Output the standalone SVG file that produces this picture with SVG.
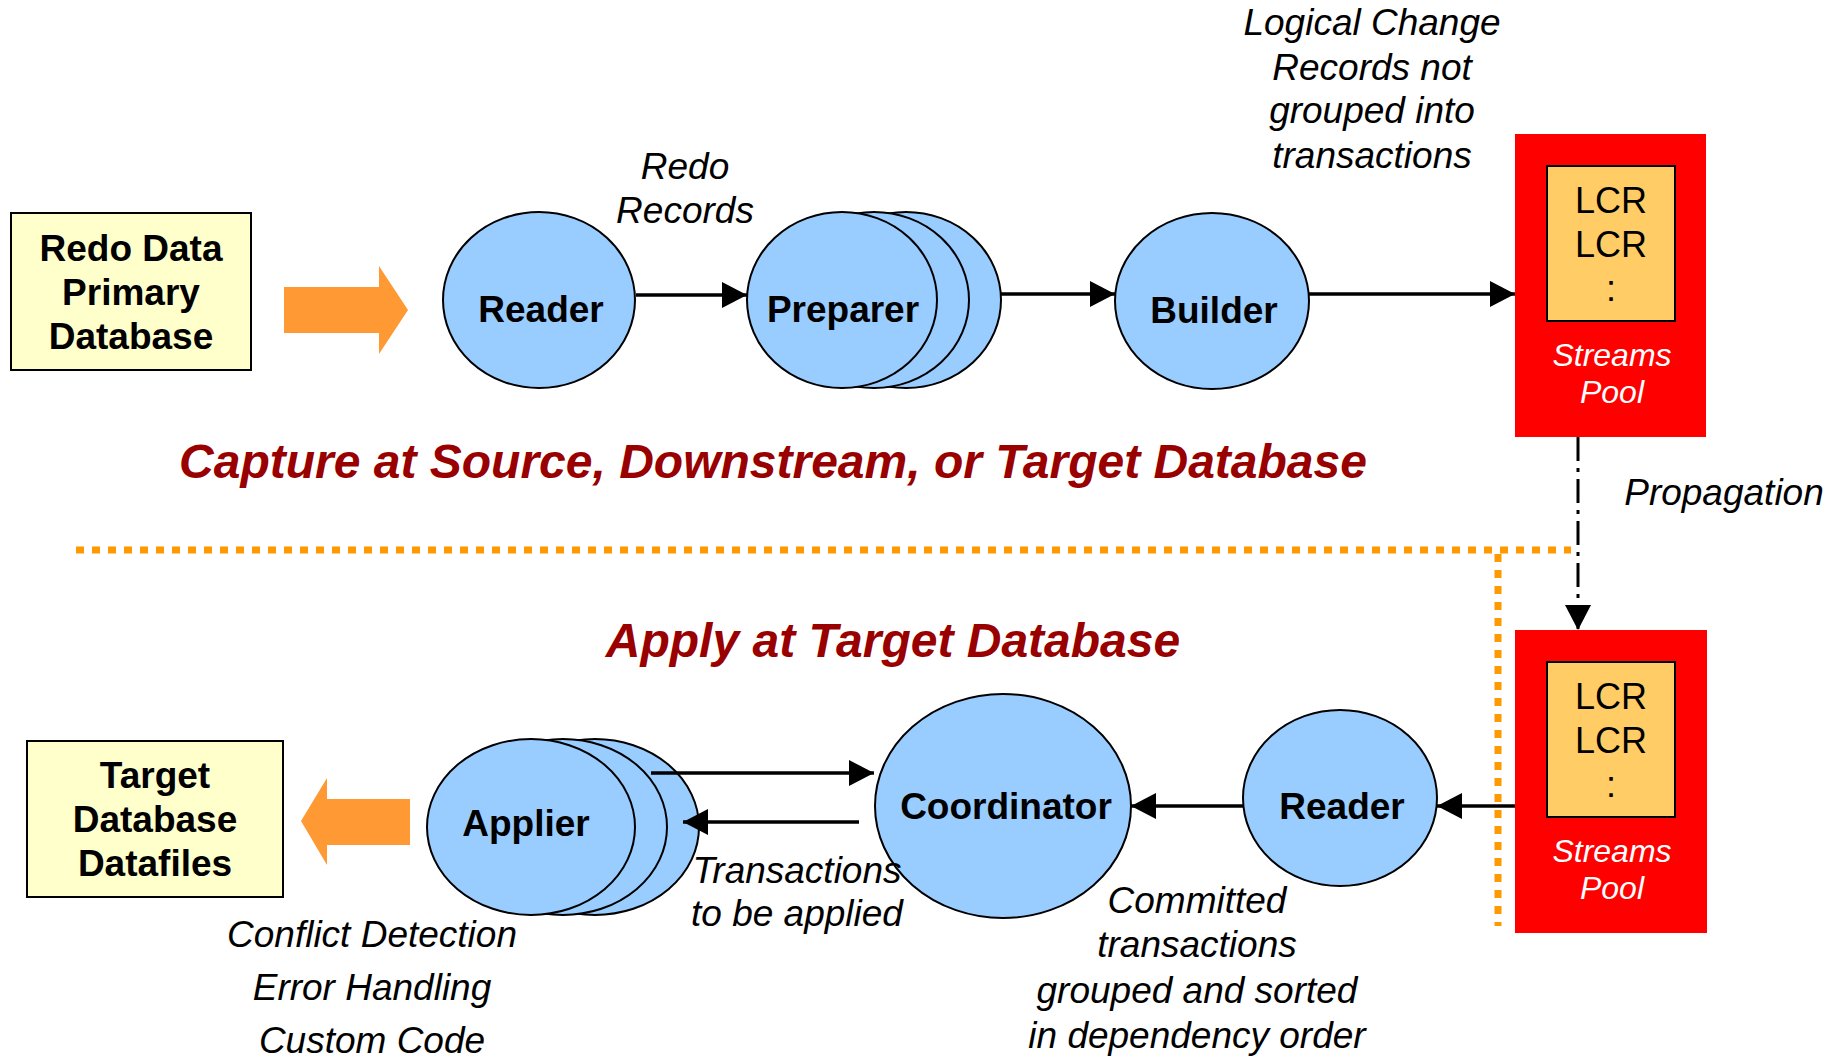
<svg xmlns="http://www.w3.org/2000/svg" width="1839" height="1058" viewBox="0 0 1839 1058">
<style>
.ell{fill:#99CCFF;stroke:#000;stroke-width:2}
.box{fill:#FFFFCC;stroke:#000;stroke-width:2}
.pool{fill:#FF0000}
.lcrbox{fill:#FFCC66;stroke:#000;stroke-width:2}
.lbl{font-family:"Liberation Sans",Arial,sans-serif;font-weight:bold;font-size:37px;fill:#000;text-anchor:middle}
.it{font-family:"Liberation Sans",Arial,sans-serif;font-style:italic;font-size:37px;fill:#000;text-anchor:middle}
.lcr{font-family:"Liberation Sans",Arial,sans-serif;font-size:36px;fill:#000;text-anchor:middle}
.sp{font-family:"Liberation Sans",Arial,sans-serif;font-style:italic;font-size:32px;fill:#fff;text-anchor:middle}
.title{font-family:"Liberation Sans",Arial,sans-serif;font-style:italic;font-weight:bold;font-size:48px;fill:#990000;text-anchor:middle}
.con{stroke:#000;stroke-width:3.5;fill:none}
.big{fill:#FF9933}
.dot{stroke:#FF9900;stroke-width:7;stroke-dasharray:8 8;fill:none}
</style>
<defs>
<marker id="arr" viewBox="0 0 25 26" refX="25" refY="13" markerWidth="25" markerHeight="26" markerUnits="userSpaceOnUse" orient="auto">
<path d="M0,0 L25,13 L0,26 Z" fill="#000"/>
</marker>
</defs>

<!-- separators -->
<g id="separator">
<path class="dot" d="M76,550 H1571"/>
<path class="dot" d="M1498,554 V926"/>
</g>

<!-- titles -->
<g id="titles">
<text class="title" x="773" y="478">Capture at Source, Downstream, or Target Database</text>
<text class="title" x="893" y="657">Apply at Target Database</text>
</g>

<!-- nodes -->
<g id="redo-data">
<rect class="box" x="11" y="213" width="240" height="157"/>
<text class="lbl" x="131" y="261">Redo Data</text>
<text class="lbl" x="131" y="305">Primary</text>
<text class="lbl" x="131" y="349">Database</text>
</g>
<g id="orange-right">
<polygon class="big" points="284,287 379,287 379,266 408,310 379,354 379,333 284,333"/>
</g>
<g id="reader-top">
<ellipse class="ell" cx="539" cy="300" rx="96" ry="88"/>
<text class="lbl" x="541" y="322">Reader</text>
</g>
<g id="preparer">
<ellipse class="ell" cx="906" cy="300" rx="95" ry="88"/>
<ellipse class="ell" cx="874" cy="300" rx="95" ry="88"/>
<ellipse class="ell" cx="842" cy="300" rx="95" ry="88"/>
<text class="lbl" x="843" y="322">Preparer</text>
</g>
<g id="builder">
<ellipse class="ell" cx="1212" cy="301" rx="97" ry="88"/>
<text class="lbl" x="1214" y="323">Builder</text>
</g>
<g id="streams-pool-top">
<rect class="pool" x="1515" y="134" width="191" height="303"/>
<rect class="lcrbox" x="1547" y="166" width="128" height="155"/>
<text class="lcr" x="1611" y="213">LCR</text>
<text class="lcr" x="1611" y="257">LCR</text>
<text class="lcr" x="1611" y="301">:</text>
<text class="sp" x="1612" y="366">Streams</text>
<text class="sp" x="1612" y="403">Pool</text>
</g>
<g id="streams-pool-bottom">
<rect class="pool" x="1515" y="630" width="192" height="303"/>
<rect class="lcrbox" x="1547" y="662" width="128" height="155"/>
<text class="lcr" x="1611" y="709">LCR</text>
<text class="lcr" x="1611" y="753">LCR</text>
<text class="lcr" x="1611" y="797">:</text>
<text class="sp" x="1612" y="862">Streams</text>
<text class="sp" x="1612" y="899">Pool</text>
</g>
<g id="reader-bottom">
<ellipse class="ell" cx="1340" cy="798" rx="97" ry="88"/>
<text class="lbl" x="1342" y="819">Reader</text>
</g>
<g id="coordinator">
<ellipse class="ell" cx="1003" cy="806" rx="128" ry="112"/>
<text class="lbl" x="1006" y="819">Coordinator</text>
</g>
<g id="applier">
<ellipse class="ell" cx="595" cy="827" rx="104" ry="88"/>
<ellipse class="ell" cx="563" cy="827" rx="104" ry="88"/>
<ellipse class="ell" cx="531" cy="827" rx="104" ry="88"/>
<text class="lbl" x="526" y="836">Applier</text>
</g>
<g id="orange-left">
<polygon class="big" points="410,799 327,799 327,778 301,821 327,865 327,845 410,845"/>
</g>
<g id="target-db">
<rect class="box" x="27" y="741" width="256" height="156"/>
<text class="lbl" x="155" y="788">Target</text>
<text class="lbl" x="155" y="832">Database</text>
<text class="lbl" x="155" y="876">Datafiles</text>
</g>

<!-- connectors -->
<g id="connectors">
<line class="con" x1="636" y1="295" x2="747" y2="295" marker-end="url(#arr)"/>
<line class="con" x1="1001" y1="294" x2="1115" y2="294" marker-end="url(#arr)"/>
<line class="con" x1="1309" y1="294" x2="1515" y2="294" marker-end="url(#arr)"/>
<line x1="1578" y1="437" x2="1578" y2="630" stroke="#000" stroke-width="3" stroke-dasharray="24 7 4 7" marker-end="url(#arr)"/>
<line class="con" x1="1515" y1="806" x2="1437" y2="806" marker-end="url(#arr)"/>
<line class="con" x1="1243" y1="806" x2="1131" y2="806" marker-end="url(#arr)"/>
<line class="con" x1="651" y1="773" x2="874" y2="773" marker-end="url(#arr)"/>
<line class="con" x1="859" y1="822" x2="683" y2="822" marker-end="url(#arr)"/>
</g>

<!-- labels -->
<g id="labels">
<text class="it" x="685" y="179">Redo</text>
<text class="it" x="685" y="223">Records</text>
<text class="it" x="1372" y="35">Logical Change</text>
<text class="it" x="1372" y="80">Records not</text>
<text class="it" x="1372" y="123">grouped into</text>
<text class="it" x="1372" y="168">transactions</text>
<text class="it" x="1724" y="505">Propagation</text>
<text class="it" x="797" y="883">Transactions</text>
<text class="it" x="797" y="926">to be applied</text>
<text class="it" x="1197" y="913">Committed</text>
<text class="it" x="1197" y="957">transactions</text>
<text class="it" x="1197" y="1003">grouped and sorted</text>
<text class="it" x="1197" y="1048">in dependency order</text>
<text class="it" x="372" y="947">Conflict Detection</text>
<text class="it" x="372" y="1000">Error Handling</text>
<text class="it" x="372" y="1053">Custom Code</text>
</g>
</svg>
